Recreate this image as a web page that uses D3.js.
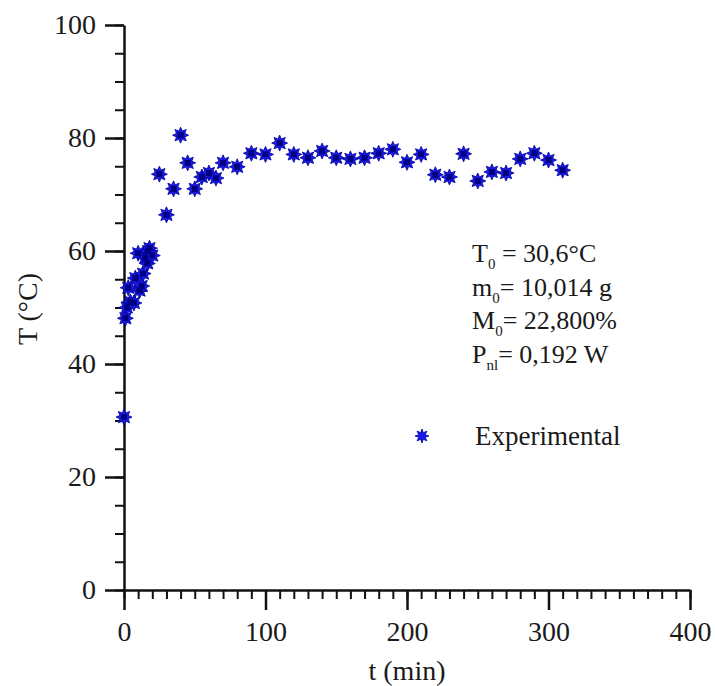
<!DOCTYPE html>
<html>
<head>
<meta charset="utf-8">
<script src="https://cdn.jsdelivr.net/npm/d3@7"></script>
<style>
  body { margin: 0; background: #fff; }
  text { font-family: "Liberation Serif", "Times New Roman", serif; fill: #1a1a1a; }
</style>
</head>
<body>
<div id="vis"></div>
<script>
const FRAME_WIDTH = 715;
const FRAME_HEIGHT = 686;

// experimental points, t (min) and T (°C)
const times = [0, 1, 2, 3, 4.5, 7, 8, 10, 11, 12.5, 13.5, 15, 16.5, 17, 18, 20,
  25, 30, 35, 40, 45, 50, 55, 60, 65, 70, 80, 90, 100, 110, 120, 130, 140, 150,
  160, 170, 180, 190, 200, 210, 220, 230, 240, 250, 260, 270, 280, 290, 300, 310];
const temps = [30.6, 48.1, 50, 53.5, 51, 50.8, 55.2, 59.6, 53, 53.8, 56, 58.8, 57.8, 60, 60.5, 59.2,
  73.6, 66.4, 71, 80.5, 75.6, 71, 73.1, 73.8, 72.9, 75.6, 74.9, 77.3, 77.1, 79.1, 77.1, 76.5, 77.7, 76.5,
  76.3, 76.5, 77.3, 78, 75.7, 77.1, 73.5, 73.1, 77.2, 72.4, 74, 73.8, 76.3, 77.3, 76.1, 74.3];

const xTicks = [0, 100, 200, 300, 400];
const yTicks = [0, 20, 40, 60, 80, 100];
const seriesName = 'Experimental';

const FRAME = d3.select('#vis')
  .append('svg')
    .attr('width', FRAME_WIDTH)
    .attr('height', FRAME_HEIGHT);

const X_SCALE = d3.scaleLinear().domain([0, 400]).range([124, 690]);
const Y_SCALE = d3.scaleLinear().domain([0, 100]).range([590, 25]);

// minor ticks first, majors over them
FRAME.append('g')
  .attr('transform', 'translate(0,' + Y_SCALE(0) + ')')
  .call(d3.axisBottom(X_SCALE).tickValues(d3.range(0, 401, 10)).tickSize(9).tickFormat(''))
  .call(g => g.select('.domain').remove())
  .selectAll('line').attr('stroke', '#111').attr('stroke-width', 2);

FRAME.append('g')
  .attr('transform', 'translate(' + X_SCALE(0) + ',0)')
  .call(d3.axisLeft(Y_SCALE).tickValues(d3.range(0, 101, 5)).tickSize(9).tickFormat(''))
  .call(g => g.select('.domain').remove())
  .selectAll('line').attr('stroke', '#111').attr('stroke-width', 2);

const xAxis = FRAME.append('g')
  .attr('transform', 'translate(0,' + Y_SCALE(0) + ')')
  .call(d3.axisBottom(X_SCALE).tickValues(xTicks).tickSize(20).tickSizeOuter(0).tickPadding(11));
xAxis.select('.domain').attr('stroke', '#111').attr('stroke-width', 2.5);
xAxis.selectAll('line').attr('stroke', '#111').attr('stroke-width', 2.5);
xAxis.selectAll('text').attr('font-size', '28px').attr('font-family', 'Liberation Serif').attr('fill', '#1a1a1a');

const yAxis = FRAME.append('g')
  .attr('transform', 'translate(' + X_SCALE(0) + ',0)')
  .call(d3.axisLeft(Y_SCALE).tickValues(yTicks).tickSize(19).tickSizeOuter(0).tickPadding(9));
yAxis.select('.domain').attr('stroke', '#111').attr('stroke-width', 2.5);
yAxis.selectAll('line').attr('stroke', '#111').attr('stroke-width', 2.5);
yAxis.selectAll('text').attr('font-size', '28px').attr('font-family', 'Liberation Serif').attr('fill', '#1a1a1a');

// axis titles
FRAME.append('text')
  .attr('x', 407).attr('y', 680)
  .attr('text-anchor', 'middle')
  .attr('font-size', '28px')
  .text('t (min)');

FRAME.append('text')
  .attr('transform', 'translate(37,309) rotate(-90)')
  .attr('text-anchor', 'middle')
  .attr('font-size', '28px')
  .text('T (°C)');

// 8 pointed star marker
function starPath(r1, r2, n) {
  const pts = [];
  for (let i = 0; i < n * 2; i++) {
    const r = i % 2 === 0 ? r1 : r2;
    const a = Math.PI * i / n;
    pts.push([r * Math.sin(a), -r * Math.cos(a)]);
  }
  return 'M' + pts.map(p => p[0].toFixed(2) + ',' + p[1].toFixed(2)).join('L') + 'Z';
}
const STAR = starPath(8, 4.5, 8);

const points = times.map((t, i) => ({t: t, T: temps[i]}));

FRAME.append('g').selectAll('path')
  .data(points)
  .enter()
  .append('path')
    .attr('d', STAR)
    .attr('transform', d => 'translate(' + X_SCALE(d.t) + ',' + Y_SCALE(d.T) + ')')
    .attr('fill', '#1a1ae6')
    .attr('stroke', '#0000a0')
    .attr('stroke-width', 0.8);

FRAME.append('g').selectAll('rect')
  .data(points)
  .enter()
  .append('rect')
    .attr('x', d => X_SCALE(d.t) - 3)
    .attr('y', d => Y_SCALE(d.T) - 3)
    .attr('width', 6).attr('height', 6)
    .attr('fill', '#000080');

// parameters block
const notes = [
  ['T', '0', ' = 30,6°C'],
  ['m', '0', '= 10,014 g'],
  ['M', '0', '= 22,800%'],
  ['P', 'nl', '= 0,192 W']
];
notes.forEach((n, i) => {
  const t = FRAME.append('text')
    .attr('x', 472).attr('y', 262 + i * 33.5)
    .attr('font-size', '26px');
  t.append('tspan').text(n[0]);
  t.append('tspan').attr('font-size', '15px').attr('dy', 7).text(n[1]);
  t.append('tspan').attr('dy', -7).text(n[2]);
});

// legend
FRAME.append('path')
  .attr('d', starPath(7, 3.5, 8))
  .attr('transform', 'translate(422,436)')
  .attr('fill', '#1a1ae6')
  .attr('stroke', '#0000a0')
  .attr('stroke-width', 0.8);

FRAME.append('text')
  .attr('x', 475).attr('y', 445)
  .attr('font-size', '27px')
  .text(seriesName);
</script>
</body>
</html>
